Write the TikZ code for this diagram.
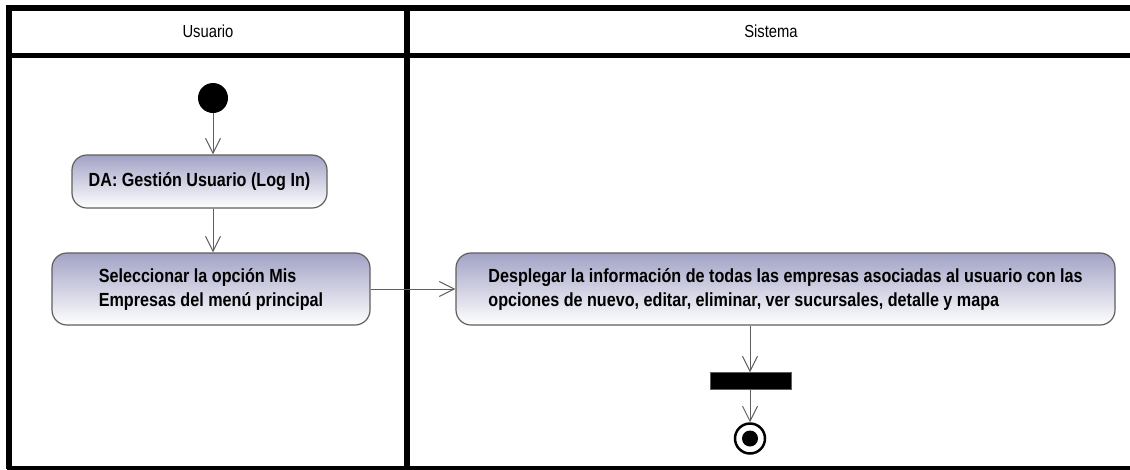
\documentclass[tikz,border=0pt]{standalone}
\usepackage{fontspec}
\setmainfont[FakeStretch=0.85]{Liberation Sans}
\usepackage{tikz}
\usetikzlibrary{arrows.meta}
\definecolor{actTop}{RGB}{162,162,198}
\definecolor{actLine}{RGB}{95,95,95}

\begin{document}
\begin{tikzpicture}[x=1pt,y=-1pt]
\tikzstyle{lane}=[line width=5.5pt,black]
\tikzstyle{header}=[font=\fontsize{17.4}{20}\selectfont]
\tikzstyle{activity}=[draw=actLine,line width=1.2pt,rounded corners=15pt,top color=actTop,bottom color=white,inner sep=0pt,align=left,font=\bfseries\fontsize{19}{24}\selectfont]
\tikzstyle{flow}=[draw=actLine,line width=1pt,-{Straight Barb[length=15pt,width=15pt,line width=1pt]}]
\useasboundingbox (0,0) rectangle (1130,469);
\fill[white] (0,0) rectangle (1130,469);
\draw[lane] (9,5) -- (9,469);
\draw[lane] (407,5) -- (407,469);
\draw[lane] (7,8) -- (1130,8);
\draw[lane] (7,55.5) -- (1130,55.5);
\draw[lane] (7,468.5) -- (1130,468.5);
\path (208,31) node[header] (usuario) {Usuario};
\path (771,31) node[header] (sistema) {Sistema};
\path (213,98) node[circle,fill=black,inner sep=0pt,minimum size=30pt] (start) {};
\path (199.5,181.5) node[activity,minimum width=255pt,minimum height=53pt] (login) {DA: Gestión Usuario (Log In)};
\path (211,289) node[activity,minimum width=318pt,minimum height=72pt] (select) {Seleccionar la opción Mis\\Empresas del menú principal};
\path (785.5,289) node[activity,minimum width=659pt,minimum height=72pt] (show) {Desplegar la información de todas las empresas asociadas al usuario con las\\opciones de nuevo, editar, eliminar, ver sucursales, detalle y mapa};
\path (751,381) node[rectangle,fill=black,draw=actLine,inner sep=0pt,minimum width=81pt,minimum height=17pt] (fork) {};
\path (750,438.5) node[circle,draw=black,line width=2.5pt,inner sep=0pt,minimum size=30pt,path picture={\fill[black] (path picture bounding box.center) circle (8pt);}] (final) {};
\draw[flow] (start) -- (start |- login.north);
\draw[flow] (login.south -| start) -- (select.north -| start);
\draw[flow] (select) -- (show);
\draw[flow] (show.south -| final) -- (fork.north -| final);
\draw[flow] (fork.south -| final) -- (final);
\end{tikzpicture}
\end{document}
